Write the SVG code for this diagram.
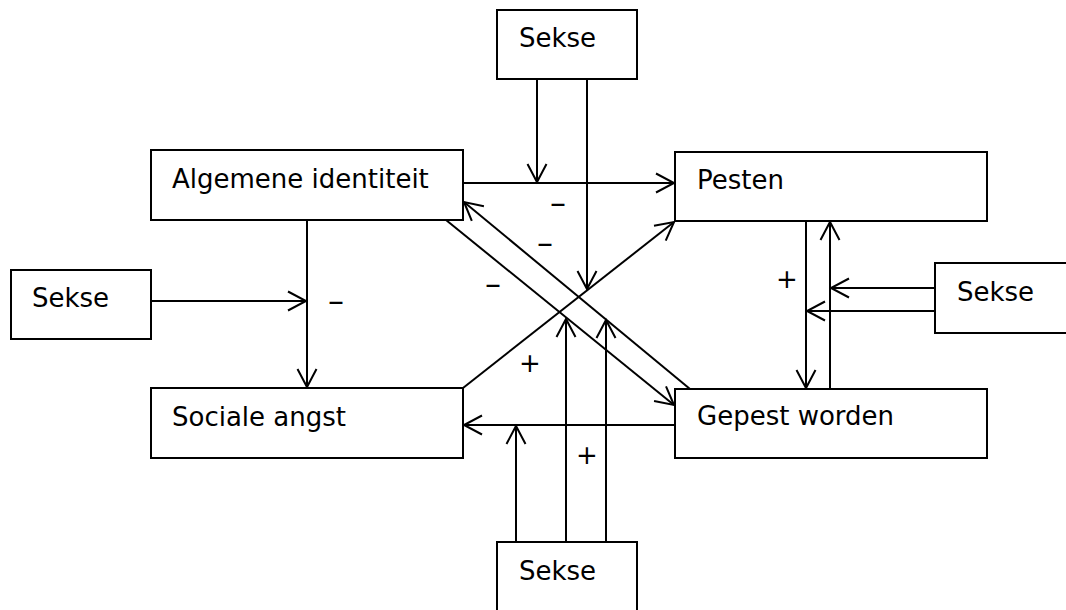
<svg xmlns="http://www.w3.org/2000/svg" width="1066" height="610" viewBox="0 0 1066 610">
<defs>
<marker id="arr" markerUnits="userSpaceOnUse" markerWidth="24" markerHeight="24" viewBox="-20 -12 24 24" refX="0" refY="0" orient="auto" overflow="visible">
<path d="M-18,-9.5 L0,0 L-18,9.5" fill="none" stroke="#000" stroke-width="2"/>
</marker>
<style>
.box{fill:#fff;stroke:#000;stroke-width:2}
.t{font-family:"DejaVu Sans",Verdana,sans-serif;font-size:26px;fill:#000}
.d{font-family:"DejaVu Sans",Verdana,sans-serif;font-size:32px;fill:#000}
.c{fill:none;stroke:#000;stroke-width:2}
.a{marker-end:url(#arr)}
</style>
</defs>
<rect width="1066" height="610" fill="#fff"/>
<g id="connectors">
<line class="c a" x1="463" y1="183" x2="674" y2="183"/>
<line class="c a" x1="537" y1="79" x2="537" y2="182"/>
<line class="c a" x1="587" y1="79" x2="587" y2="289"/>
<line class="c a" x1="307" y1="220" x2="307" y2="387"/>
<line class="c a" x1="151" y1="301" x2="306" y2="301"/>
<line class="c a" x1="463" y1="388" x2="674" y2="222"/>
<line class="c a" x1="446" y1="220" x2="674" y2="405"/>
<line class="c a" x1="690" y1="389" x2="464" y2="202"/>
<line class="c a" x1="806" y1="221" x2="806" y2="388"/>
<line class="c a" x1="830" y1="389" x2="830" y2="222"/>
<line class="c a" x1="935" y1="288" x2="831" y2="288"/>
<line class="c a" x1="935" y1="311" x2="807" y2="311"/>
<line class="c a" x1="675" y1="425" x2="464" y2="425"/>
<line class="c a" x1="516" y1="542" x2="516" y2="426"/>
<line class="c a" x1="566" y1="542" x2="566" y2="319"/>
<line class="c a" x1="606" y1="542" x2="606" y2="320"/>
<text class="d" x="558" y="214" text-anchor="middle">–</text>
<text class="d" x="545" y="254" text-anchor="middle">–</text>
<text class="d" x="493" y="295" text-anchor="middle">–</text>
<text class="d" x="336" y="312" text-anchor="middle">–</text>
<text class="t" x="787" y="288" text-anchor="middle">+</text>
<text class="t" x="530" y="372" text-anchor="middle">+</text>
<text class="t" x="587" y="464" text-anchor="middle">+</text>
</g>
<g id="sekse-top"><rect class="box" x="497" y="10" width="140" height="69"/><text class="t" x="519" y="47">Sekse</text></g>
<g id="algemene"><rect class="box" x="151" y="150" width="312" height="70"/><text class="t" x="172" y="188">Algemene identiteit</text></g>
<g id="pesten"><rect class="box" x="675" y="152" width="312" height="69"/><text class="t" x="697" y="189">Pesten</text></g>
<g id="sekse-left"><rect class="box" x="11" y="270" width="140" height="69"/><text class="t" x="32" y="307">Sekse</text></g>
<g id="sekse-right"><rect class="box" x="935" y="263" width="140" height="70"/><text class="t" x="957" y="301">Sekse</text></g>
<g id="sociale"><rect class="box" x="151" y="388" width="312" height="70"/><text class="t" x="172" y="426">Sociale angst</text></g>
<g id="gepest"><rect class="box" x="675" y="389" width="312" height="69"/><text class="t" x="697" y="425">Gepest worden</text></g>
<g id="sekse-bottom"><rect class="box" x="497" y="542" width="140" height="75"/><text class="t" x="519" y="580">Sekse</text></g>
</svg>
